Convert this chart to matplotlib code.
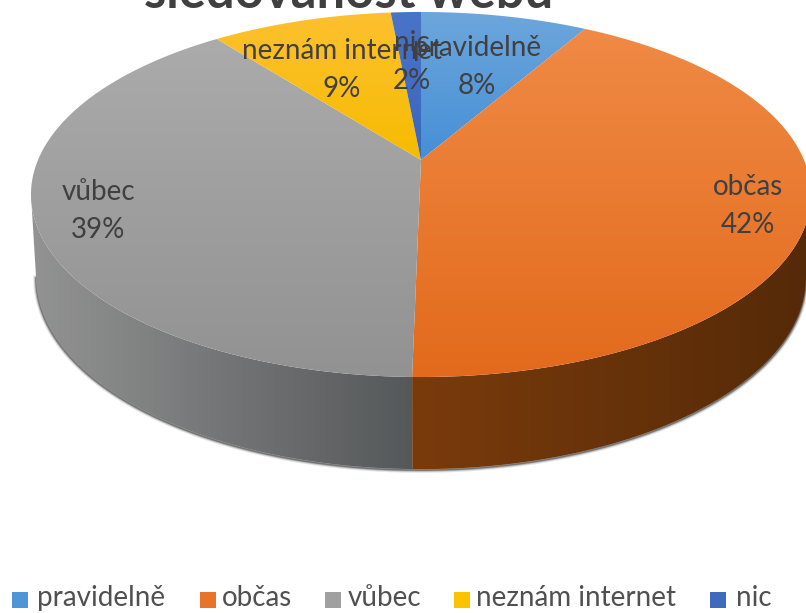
import numpy as np
import matplotlib
matplotlib.use('Agg')
import matplotlib.pyplot as plt
from matplotlib.patches import Polygon, Rectangle

plt.rcParams['font.family'] = ['Lato', 'DejaVu Sans']

title = 'sledovanost webu'
categories = ['pravidelně', 'občas', 'vůbec', 'neznám internet', 'nic']
values = [8.3, 42.0, 39.2, 9.0, 1.5]
percent_labels = ['8%', '42%', '39%', '9%', '2%']

# top colour, bottom colour of each slice
top_colors = ['#6ea6dc', '#f08a45', '#ababab', '#fdc030', '#4a74c8']
bottom_colors = ['#458fd6', '#e26a1c', '#929292', '#f6bc00', '#3a66bb']
legend_colors = ['#4f96d8', '#e8742a', '#a0a0a0', '#fbc200', '#3e69bd']
# wall colours left -> right
wall_colors = {1: ('#7a3b0c', '#552a08'), 2: ('#939393', '#555859')}

label_pos = [(477, 67), (748, 206), (98, 211), (342, 70), (412, 62)]
legend_box = [12, 200, 325, 454, 710]
legend_text = [37, 222, 348, 476, 736]

# pie geometry in pixels
cx, cy = 421, 160
A, B, k = 383, 176, 0.189


def project(frac):
    # disc -> screen, perspective so that the apex sits above the ellipse centre
    th = 2 * np.pi * np.asarray(frac)
    u, v = np.sin(th), np.cos(th)
    w = 1 + k * v
    return cx + A * u / w, cy - B * v / w


def lower_rim(xs, ys):
    # bottom edge of the wall
    return cx + (xs - cx) * 0.987, 278 + (ys - 195) * 1.05


def gradient(c1, c2, horizontal=False):
    c1 = np.array(matplotlib.colors.to_rgb(c1))
    c2 = np.array(matplotlib.colors.to_rgb(c2))
    t = np.linspace(0, 1, 256)[:, None]
    g = c1 * (1 - t) + c2 * t
    return g[None, :, :] if horizontal else g[:, None, :]


fig = plt.figure(figsize=(8.06, 6.13), dpi=100)
ax = fig.add_axes([0, 0, 1, 1])
ax.set_xlim(0, 806)
ax.set_ylim(613, 0)
ax.axis('off')

edges = np.concatenate([[0], np.cumsum(values)]) / sum(values)

# soft shadow under the side wall
xs, ys = lower_rim(*project(np.linspace(0.28, 0.72, 200)))
for lw, alpha in [(4, 0.12), (2.5, 0.25), (1.2, 0.5)]:
    ax.plot(xs, ys + 1, color='#333333', lw=lw, alpha=alpha, zorder=1)

# side walls, from the widest point of the rim down to the front
wall_span = {1: (0.28, edges[2]), 2: (edges[2], 0.72)}
for i, (c1, c2) in wall_colors.items():
    xs, ys = project(np.linspace(wall_span[i][0], wall_span[i][1], 200))
    xb, yb = lower_rim(xs, ys)
    wall = np.column_stack([np.r_[xs, xb[::-1]], np.r_[ys, yb[::-1]]])
    poly = Polygon(wall, closed=True, fc='none', ec='none', zorder=2)
    ax.add_patch(poly)
    im = ax.imshow(gradient(c1, c2, True),
                   extent=(wall[:, 0].min(), wall[:, 0].max(), 613, 0),
                   aspect='auto', zorder=2)
    im.set_clip_path(poly)

# top faces
for i in range(len(values)):
    xs, ys = project(np.linspace(edges[i], edges[i + 1], 200))
    face = np.column_stack([np.r_[cx, xs], np.r_[cy, ys]])
    poly = Polygon(face, closed=True, fc='none', ec='none', zorder=3)
    ax.add_patch(poly)
    im = ax.imshow(gradient(top_colors[i], bottom_colors[i]),
                   extent=(face[:, 0].min(), face[:, 0].max(), face[:, 1].max(), face[:, 1].min()),
                   aspect='auto', zorder=3)
    im.set_clip_path(poly)
ax.set_xlim(0, 806)
ax.set_ylim(613, 0)

# data labels
for name, pct, (lx, ly) in zip(categories, percent_labels, label_pos):
    ax.text(lx, ly, name + '\n' + pct, ha='center', va='center', fontsize=20,
            color='#404040', linespacing=1.6, zorder=5)

ax.text(349, 8, title, ha='center', va='baseline', fontsize=36.5, fontweight='bold',
        color='#404040', zorder=6)

# legend
for i, name in enumerate(categories):
    ax.add_patch(Rectangle((legend_box[i], 592), 16, 16, fc=legend_colors[i], ec='none'))
    ax.text(legend_text[i], 598, name, ha='left', va='center', fontsize=20, color='#505050')

fig.savefig('out.png', dpi=100)
